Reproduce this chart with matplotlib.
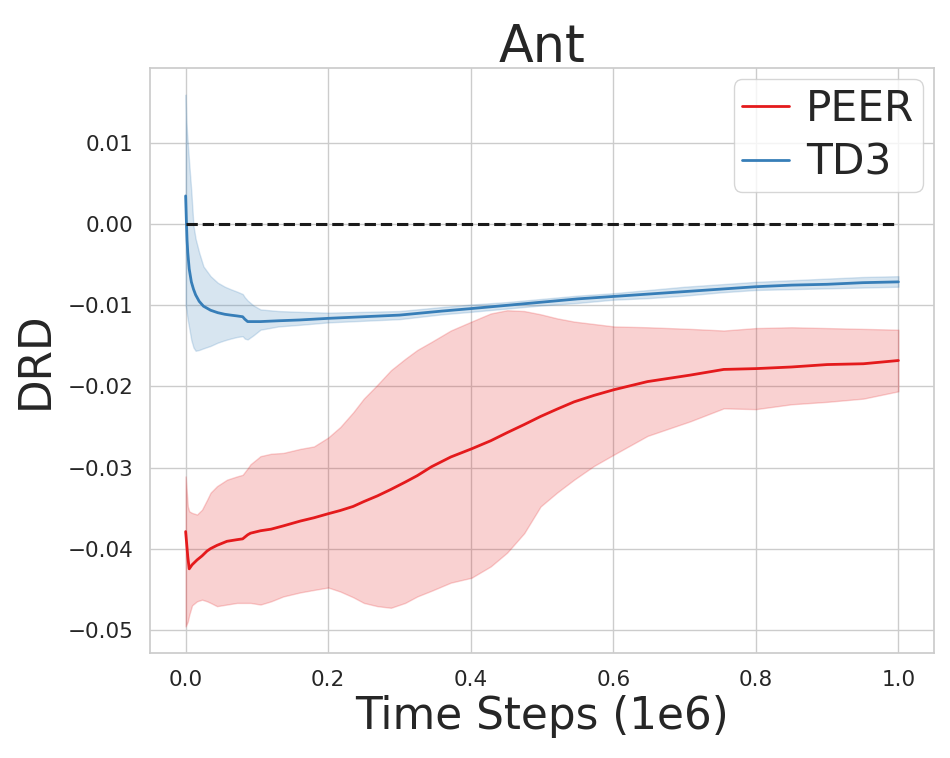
import numpy as np
import matplotlib
matplotlib.use("Agg")
import matplotlib.pyplot as plt
import seaborn as sns

# PEER (red) - mean and band
peer_x = [0.0, 0.003, 0.005, 0.009, 0.016, 0.023, 0.03, 0.035, 0.044, 0.058,
          0.072, 0.08, 0.087, 0.091, 0.105, 0.12, 0.137, 0.161, 0.18, 0.2,
          0.217, 0.235, 0.25, 0.269, 0.288, 0.308, 0.325, 0.345, 0.372, 0.401,
          0.428, 0.451, 0.475, 0.498, 0.521, 0.545, 0.573, 0.601, 0.648, 0.708,
          0.755, 0.8, 0.85, 0.9, 0.951, 1.0]
peer_mean = [-0.0379, -0.0410, -0.0425, -0.0420, -0.0414, -0.0409, -0.0403, -0.0400, -0.0396, -0.0391,
             -0.0389, -0.0388, -0.0383, -0.0381, -0.0378, -0.0376, -0.0372, -0.0366, -0.0362, -0.0357,
             -0.0353, -0.0348, -0.0342, -0.0335, -0.0327, -0.0318, -0.0310, -0.0299, -0.0287, -0.0277,
             -0.0267, -0.0257, -0.0247, -0.0237, -0.0228, -0.0219, -0.0211, -0.0204, -0.0194, -0.0186,
             -0.0179, -0.0178, -0.0176, -0.0173, -0.0172, -0.0168]
peer_upper = [-0.0311, -0.0348, -0.0354, -0.0356, -0.0358, -0.0352, -0.0340, -0.0331, -0.0323, -0.0315,
              -0.0311, -0.0309, -0.0301, -0.0296, -0.0286, -0.0283, -0.0282, -0.0277, -0.0274, -0.0263,
              -0.0250, -0.0232, -0.0215, -0.0198, -0.0180, -0.0166, -0.0155, -0.0145, -0.0131, -0.0120,
              -0.0110, -0.0106, -0.0107, -0.0111, -0.0116, -0.0120, -0.0123, -0.0126, -0.0127, -0.0129,
              -0.0131, -0.0128, -0.0127, -0.0128, -0.0129, -0.0130]
peer_lower = [-0.0496, -0.0490, -0.0482, -0.0470, -0.0465, -0.0463, -0.0465, -0.0467, -0.0471, -0.0469,
              -0.0467, -0.0467, -0.0467, -0.0467, -0.0469, -0.0465, -0.0459, -0.0454, -0.0451, -0.0448,
              -0.0453, -0.0460, -0.0467, -0.0471, -0.0473, -0.0467, -0.0459, -0.0452, -0.0442, -0.0436,
              -0.0422, -0.0405, -0.0381, -0.0348, -0.0331, -0.0315, -0.0298, -0.0284, -0.0261, -0.0243,
              -0.0227, -0.0228, -0.0222, -0.0219, -0.0215, -0.0206]

# TD3 (blue)
td3_x = [0.0, 0.001, 0.002, 0.003, 0.005, 0.008, 0.011, 0.014, 0.019, 0.025,
         0.035, 0.045, 0.055, 0.063, 0.072, 0.08, 0.083, 0.087, 0.095, 0.105,
         0.13, 0.16, 0.2, 0.25, 0.3, 0.36, 0.4, 0.45, 0.5, 0.55,
         0.6, 0.65, 0.7, 0.75, 0.8, 0.85, 0.9, 0.95, 1.0]
td3_mean = [0.0035, 0.0005, -0.0020, -0.0035, -0.0055, -0.0071, -0.0080, -0.0087, -0.0095, -0.0101,
            -0.0106, -0.0109, -0.0111, -0.0112, -0.0113, -0.0114, -0.0117, -0.0120, -0.0120, -0.0120,
            -0.0119, -0.0118, -0.0116, -0.0114, -0.0112, -0.0107, -0.0104, -0.0100, -0.0096, -0.0092,
            -0.0089, -0.0086, -0.0083, -0.0080, -0.0077, -0.0075, -0.0074, -0.0072, -0.0071]
td3_upper = [0.0160, 0.0128, 0.0112, 0.0100, 0.0075, 0.0040, -0.0002, -0.0018, -0.0035, -0.0052,
             -0.0064, -0.0072, -0.0077, -0.0080, -0.0083, -0.0086, -0.0090, -0.0094, -0.0100, -0.0105,
             -0.0107, -0.0108, -0.0109, -0.0108, -0.0107, -0.0102, -0.0099, -0.0096, -0.0092, -0.0088,
             -0.0085, -0.0081, -0.0077, -0.0074, -0.0071, -0.0069, -0.0067, -0.0065, -0.0064]
td3_lower = [-0.0100, -0.0105, -0.0112, -0.0118, -0.0128, -0.0143, -0.0152, -0.0156, -0.0155, -0.0153,
             -0.0150, -0.0146, -0.0143, -0.0141, -0.0139, -0.0138, -0.0141, -0.0142, -0.0137, -0.0130,
             -0.0126, -0.0124, -0.0121, -0.0119, -0.0117, -0.0111, -0.0108, -0.0104, -0.0100, -0.0097,
             -0.0093, -0.0091, -0.0088, -0.0084, -0.0081, -0.0080, -0.0079, -0.0078, -0.0077]

zero_level = 0.0

sns.set_theme(style="whitegrid")
plt.rcParams['font.family'] = ['DejaVu Sans']

fig = plt.figure(figsize=(9.5, 7.58), dpi=100)
ax = fig.add_axes([0.1579, 0.1385, 0.8253, 0.7718])

red = '#e41a1c'
blue = '#377eb8'

ax.plot(peer_x, peer_mean, color=red, lw=2, label='PEER')
ax.fill_between(peer_x, peer_lower, peer_upper, color=red, alpha=0.2)
ax.plot(td3_x, td3_mean, color=blue, lw=2, label='TD3')
ax.fill_between(td3_x, td3_lower, td3_upper, color=blue, alpha=0.2)
ax.plot([td3_x[0], td3_x[-1]], [zero_level, zero_level], 'k--', lw=2.2)

ax.set_xticks([0.0, 0.2, 0.4, 0.6, 0.8, 1.0])
ax.set_yticks([-0.05, -0.04, -0.03, -0.02, -0.01, 0.0, 0.01])
ax.tick_params(length=0, pad=12, labelsize=15.5, colors='#262626')
ax.set_title("Ant", fontsize=36.5, pad=4, color='#262626')
ax.set_xlabel("Time Steps (1e6)", fontsize=31.5, labelpad=4, color='#262626')
ax.set_ylabel("DRD", fontsize=31.5, labelpad=8, color='#262626')

ax.legend(loc='upper right', fontsize=30.5, borderpad=0.2, labelspacing=0.27,
          handlelength=1.1, handletextpad=0.4, borderaxespad=0.27)

fig.savefig("out.png", dpi=100)
